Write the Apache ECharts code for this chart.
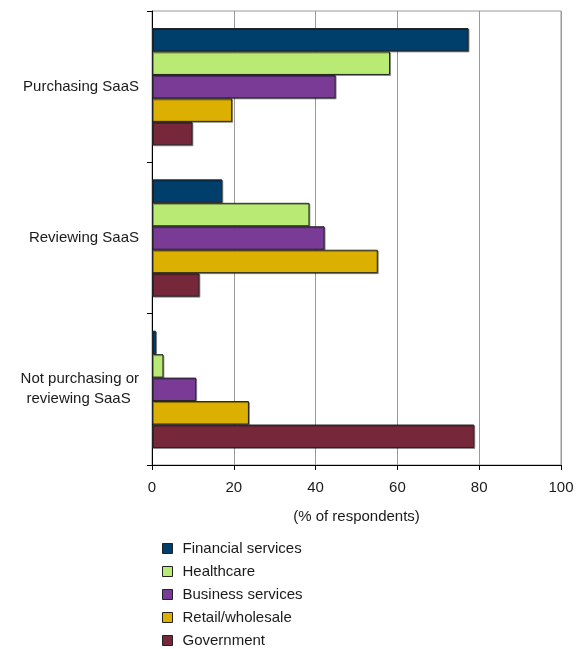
<!DOCTYPE html>
<html>
<head>
<meta charset="utf-8">
<script src="https://cdn.jsdelivr.net/npm/echarts@6/dist/echarts.min.js"></script>
<style>
html,body{margin:0;padding:0;background:#fff;}
#chart{width:578px;height:649px;}
</style>
</head>
<body>
<div id="chart"></div>
<script>
var categories = ['Purchasing SaaS', 'Reviewing SaaS', 'Not purchasing or\nreviewing SaaS\u00a0\u00a0'];
var seriesNames = ['Financial services', 'Healthcare', 'Business services', 'Retail/wholesale', 'Government'];
var financial = [77.4, 17.2, 1.0];
var healthcare = [58.2, 38.5, 2.8];
var business = [44.9, 42.2, 10.8];
var retail = [19.6, 55.2, 23.7];
var government = [9.9, 11.6, 78.8];
var xTicks = [0, 20, 40, 60, 80, 100];
var colors = ['#003f6c', '#b9ea73', '#7a3b96', '#dcb000', '#76283a'];

var values = [financial, healthcare, business, retail, government];
var font = 'Liberation Sans, Arial, sans-serif';
var textColor = '#1a1a1a';

var chart = echarts.init(document.getElementById('chart'), null, {renderer: 'canvas'});
chart.setOption({
  animation: false,
  backgroundColor: '#fff',
  color: colors,
  grid: {left: 152, right: 17, top: 11, bottom: 184, show: true, borderColor: '#999', borderWidth: 1, containLabel: false},
  legend: {
    orient: 'vertical', left: 162, top: 541, padding: 0,
    itemWidth: 10, itemHeight: 10, itemGap: 8,
    icon: 'rect',
    itemStyle: {borderColor: '#222', borderWidth: 1},
    textStyle: {fontFamily: font, fontSize: 15, color: textColor, padding: [0, 0, 0, 5]},
    data: seriesNames
  },
  xAxis: {
    type: 'value', min: xTicks[0], max: xTicks[xTicks.length - 1], interval: 20,
    name: '(% of respondents)', nameLocation: 'middle', nameGap: 44,
    nameTextStyle: {fontFamily: font, fontSize: 15, color: textColor},
    axisLine: {show: true, lineStyle: {color: '#000', width: 1}},
    axisTick: {show: true, length: 5, lineStyle: {color: '#000'}},
    axisLabel: {margin: 15, fontFamily: font, fontSize: 15, color: textColor},
    splitLine: {show: true, lineStyle: {color: '#999', width: 1}}
  },
  yAxis: {
    type: 'category', data: categories, inverse: true,
    axisLine: {show: true, lineStyle: {color: '#000', width: 1}},
    axisTick: {show: true, length: 5, lineStyle: {color: '#000'}},
    axisLabel: {margin: 13, fontFamily: font, fontSize: 15, color: textColor, lineHeight: 20, align: 'right'},
    splitLine: {show: false}
  },
  series: seriesNames.map(function (n, i) {
    return {
      name: n, type: 'bar', data: values[i],
      barGap: '0%', barCategoryGap: '22.5%',
      itemStyle: {color: colors[i], borderColor: '#222', borderWidth: 1,
        shadowColor: 'rgba(0,0,0,0.35)', shadowOffsetX: 1, shadowOffsetY: 1, shadowBlur: 0}
    };
  })
});
</script>
</body>
</html>
